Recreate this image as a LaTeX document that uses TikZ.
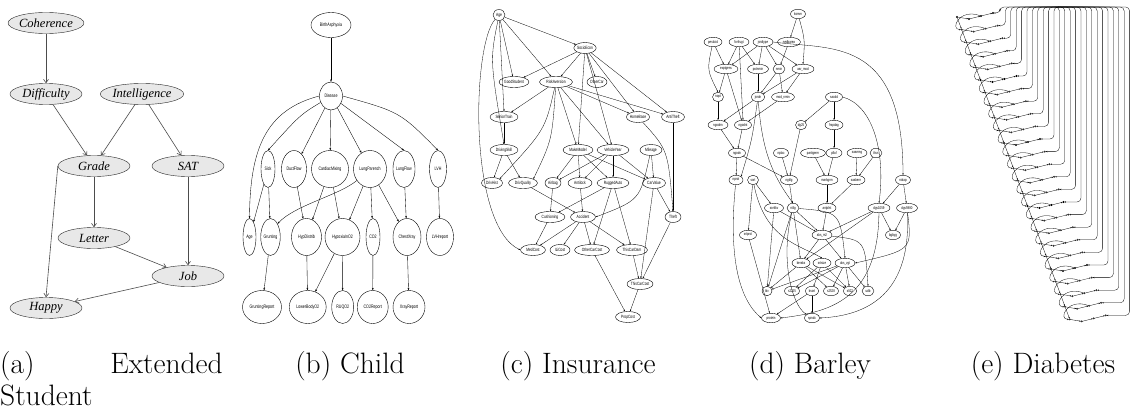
\documentclass[tikz,border=0pt]{standalone}
\usepackage{fontspec}
\usetikzlibrary{arrows.meta,shapes.geometric,calc}
\newfontfamily\studfont{Liberation Serif}
\newfontfamily\netfont[FakeStretch=0.72]{Liberation Sans}

\begin{document}
\begin{tikzpicture}[x=1pt,y=-1pt,
 st/.style={ellipse,draw=black!85,fill=gray!18,minimum width=72pt,minimum height=21pt,inner sep=0pt,font=\studfont\itshape\fontsize{12.5}{14}\selectfont},
 sa/.style={-{Straight Barb[length=3.5pt,width=5pt]},draw=black!70,line width=0.6pt},
 cn/.style={ellipse,draw,inner sep=0pt,minimum height=37pt,font=\netfont\fontsize{5}{6}\selectfont},
 ca/.style={-{Stealth[length=2.5pt,width=1.8pt]},line width=0.35pt},
 ins/.style={ellipse,draw,inner sep=0pt,minimum height=11pt,font=\netfont\fontsize{4.6}{5}\selectfont},
 ia/.style={-{Stealth[length=2pt,width=1.5pt]},line width=0.3pt},
 bn/.style={ellipse,draw,inner sep=0pt,minimum height=9.5pt,font=\netfont\fontsize{4}{5}\selectfont},
 ba/.style={-{Stealth[length=1.8pt,width=1.4pt]},line width=0.3pt},
 dn/.style={circle,draw,inner sep=0pt,minimum size=1.5pt},
 da/.style={-{Stealth[length=1.6pt,width=1.3pt]},line width=0.3pt},
 captxt/.style={font=\fontsize{29.5}{32}\selectfont,inner sep=0pt}]
 \useasboundingbox (0,0) rectangle (1143,412);
 % (a) extended student
 \node[st] (coh) at (46,23) {Coherence};
 \node[st] (diff) at (46,94) {Difficulty};
 \node[st] (intel) at (142,94) {Intelligence};
 \node[st] (grade) at (94,166) {Grade};
 \node[st] (sat) at (188,166) {SAT};
 \node[st] (letter) at (94,238) {Letter};
 \node[st] (job) at (188,276) {Job};
 \node[st] (happy) at (46,308) {Happy};
 \draw[sa] (coh)--(diff); \draw[sa] (diff)--(grade); \draw[sa] (intel)--(grade);
 \draw[sa] (intel)--(sat); \draw[sa] (grade)--(letter); \draw[sa] (grade.west)--(happy.north);
 \draw[sa] (sat)--(job); \draw[sa] (letter)--(job); \draw[sa] (job)--(happy);
 % (b) child
 \node[cn,minimum width=40pt,minimum height=25pt] (birth) at (331,25) {BirthAsphyxia};
 \node[cn,minimum width=23pt,minimum height=28pt] (dis) at (331,96) {Disease};
 \node[cn,minimum width=14pt] (sick) at (268,169) {Sick};
 \node[cn,minimum width=25pt] (duct) at (294,169) {DuctFlow};
 \node[cn,minimum width=37pt] (card) at (330,169) {CardiacMixing};
 \node[cn,minimum width=33pt] (lpar) at (370,169) {LungParench};
 \node[cn,minimum width=22pt] (lflow) at (404,169) {LungFlow};
 \node[cn,minimum width=17pt] (lvh) at (438,169) {LVH};
 \node[cn,minimum width=13pt] (age) at (249.5,237) {Age};
 \node[cn,minimum width=19pt] (grunt) at (270.5,237) {Grunting};
 \node[cn,minimum width=30pt] (hypd) at (306.5,237) {HypDistrib};
 \node[cn,minimum width=35pt] (hypo) at (342.5,237) {HypoxiaInO2};
 \node[cn,minimum width=14pt] (co2) at (373,237) {CO2};
 \node[cn,minimum width=28pt] (chest) at (407,237) {ChestXray};
 \node[cn,minimum width=27pt] (lvhr) at (440,237) {LVHreport};
 \node[cn,minimum width=39pt,minimum height=33pt] (gruntr) at (262,307) {GruntingReport};
 \node[cn,minimum width=37pt,minimum height=33pt] (lowb) at (307.7,307) {LowerBodyO2};
 \node[cn,minimum width=22pt,minimum height=33pt] (ruq) at (342.7,307) {RUQO2};
 \node[cn,minimum width=31pt,minimum height=33pt] (co2r) at (372.7,307) {CO2Report};
 \node[cn,minimum width=32pt,minimum height=33pt] (xray) at (409,307) {XrayReport};
 \draw[ca] (birth)--(dis);
 \draw[ca] (dis.west) .. controls (265,110) and (250,150) .. (age.north);
 \draw[ca] (dis) .. controls (300,115) .. (sick.north);
 \draw[ca] (dis)--(duct); \draw[ca] (dis)--(card); \draw[ca] (dis)--(lpar);
 \draw[ca] (dis)--(lflow.north);
 \draw[ca] (dis.east) .. controls (400,112) .. (lvh.north);
 \draw[ca] (sick)--(age); \draw[ca] (sick)--(grunt);
 \draw[ca] (duct)--(hypd); \draw[ca] (card)--(hypd); \draw[ca] (card)--(hypo);
 \draw[ca] (lpar) .. controls (340,195) and (295,205) .. (grunt.north east);
 \draw[ca] (lpar)--(hypo); \draw[ca] (lpar)--(co2); \draw[ca] (lpar)--(chest);
 \draw[ca] (lflow)--(chest); \draw[ca] (lvh)--(lvhr);
 \draw[ca] (grunt)--(gruntr); \draw[ca] (hypd)--(lowb); \draw[ca] (hypo)--(lowb);
 \draw[ca] (hypo)--(ruq); \draw[ca] (co2)--(co2r); \draw[ca] (chest)--(xray);
 % (c) insurance
 \node[ins,minimum width=12pt] (iage) at (499,15) {Age};
 \node[ins,minimum width=20pt] (socio) at (585,48) {SocioEcon};
 \node[ins,minimum width=30pt] (good) at (514,82) {GoodStudent};
 \node[ins,minimum width=33pt] (risk) at (556,82) {RiskAversion};
 \node[ins,minimum width=20pt] (other) at (597,82) {OtherCar};
 \node[ins,minimum width=28pt] (senior) at (504,117) {SeniorTrain};
 \node[ins,minimum width=23pt] (home) at (638,117) {HomeBase};
 \node[ins,minimum width=23pt] (anti) at (673,117) {AntiTheft};
 \node[ins,minimum width=28pt] (dskill) at (504,150) {DrivingSkill};
 \node[ins,minimum width=30pt] (make) at (578,150) {MakeModel};
 \node[ins,minimum width=32pt] (vyear) at (613,150) {VehicleYear};
 \node[ins,minimum width=22pt] (mile) at (651,150) {Mileage};
 \node[ins,minimum width=21pt] (dhist) at (492,183) {DrivHist};
 \node[ins,minimum width=29pt] (dqual) at (523,183) {DrivQuality};
 \node[ins,minimum width=16pt] (airbag) at (553,183) {Airbag};
 \node[ins,minimum width=24pt] (antil) at (580,183) {Antilock};
 \node[ins,minimum width=32pt] (rugged) at (613,183) {RuggedAuto};
 \node[ins,minimum width=23pt] (carval) at (654,183) {CarValue};
 \node[ins,minimum width=30pt] (cush) at (550,217) {Cushioning};
 \node[ins,minimum width=25pt] (acc) at (583,217) {Accident};
 \node[ins,minimum width=16pt] (theft) at (673,217) {Theft};
 \node[ins,minimum width=25pt] (med) at (533,250) {MedCost};
 \node[ins,minimum width=20pt] (ili) at (560,250) {ILiCost};
 \node[ins,minimum width=35pt] (occost) at (592,250) {OtherCarCost};
 \node[ins,minimum width=31pt] (tcdam) at (632,250) {ThisCarDam};
 \node[ins,minimum width=23pt] (tccost) at (640,284) {ThisCarCost};
 \node[ins,minimum width=25pt] (prop) at (628,317) {PropCost};
 \draw[ia] (iage)--(socio); \draw[ia] (iage)--(good); \draw[ia] (iage)--(risk);
 \draw[ia] (iage)--(senior.north); \draw[ia] (iage) .. controls (490,60) .. (dskill.north);
 \draw[ia] (iage) .. controls (472,45) and (468,225) .. (med.west);
 \draw[ia] (socio)--(good); \draw[ia] (socio)--(risk); \draw[ia] (socio)--(other);
 \draw[ia] (socio)--(make); \draw[ia] (socio)--(vyear); \draw[ia] (socio)--(home); \draw[ia] (socio)--(anti);
 \draw[ia] (risk)--(senior); \draw[ia] (risk)--(home); \draw[ia] (risk)--(anti);
 \draw[ia] (risk) .. controls (545,130) .. (dhist.north east);
 \draw[ia] (risk) .. controls (552,140) .. (dqual.north east);
 \draw[ia] (risk)--(make); \draw[ia] (risk)--(vyear);
 \draw[ia] (senior)--(dskill); \draw[ia] (dskill)--(dhist); \draw[ia] (dskill)--(dqual);
 \draw[ia] (make)--(airbag); \draw[ia] (make)--(antil); \draw[ia] (make)--(rugged); \draw[ia] (make)--(carval);
 \draw[ia] (vyear)--(airbag); \draw[ia] (vyear)--(antil); \draw[ia] (vyear)--(rugged); \draw[ia] (vyear)--(carval);
 \draw[ia] (mile)--(carval); \draw[ia] (mile) .. controls (640,200) .. (acc.east);
 \draw[ia] (dqual)--(acc); \draw[ia] (antil)--(acc); \draw[ia] (airbag)--(cush); \draw[ia] (rugged)--(cush);
 \draw[ia] (rugged)--(occost); \draw[ia] (rugged)--(tcdam);
 \draw[ia] (acc)--(med); \draw[ia] (acc)--(ili); \draw[ia] (acc)--(occost); \draw[ia] (acc)--(tcdam);
 \draw[ia] (cush)--(med);
 \draw[ia] (home) .. controls (668,150) .. (theft.north); \draw[ia] (anti)--(theft);
 \draw[ia] (carval)--(theft); \draw[ia] (carval)--(tccost); \draw[ia] (theft)--(tccost);
 \draw[ia] (tcdam)--(tccost); \draw[ia] (occost)--(prop); \draw[ia] (tccost)--(prop);
 % (d) barley
 \node[bn,minimum width=15pt] (komm) at (798,14) {komm};
 \node[bn,minimum width=18pt] (pest) at (713,42) {pesticid};
 \node[bn,minimum width=20pt] (forf) at (739,42) {forfrugt};
 \node[bn,minimum width=20pt] (jtype) at (763,42) {jordtype};
 \node[bn,minimum width=23pt] (nedb) at (789,42) {nedbarea};
 \node[bn,minimum width=24pt] (expt) at (726,69) {exptgens};
 \node[bn,minimum width=21pt] (potn) at (758,69) {potnmin};
 \node[bn,minimum width=12pt] (nmin) at (779,69) {nmin};
 \node[bn,minimum width=22pt] (aar) at (803,69) {aar\_mod};
 \node[bn,minimum width=11pt] (nopt) at (718,97) {nopt};
 \node[bn,minimum width=13pt] (jordn) at (758,97) {jordn};
 \node[bn,minimum width=23pt] (modn) at (783,97) {mod\_nmin};
 \node[bn,minimum width=17pt] (saat) at (834,97) {saatid};
 \node[bn,minimum width=20pt] (ngnn) at (718,125) {ngodnn};
 \node[bn,minimum width=17pt] (ngnt) at (743,125) {ngodnt};
 \node[bn,minimum width=11pt] (dg25) at (801,125) {dg25};
 \node[bn,minimum width=18pt] (frsp) at (834,125) {frspdag};
 \node[bn,minimum width=17pt] (ngodn) at (737,153) {ngodn};
 \node[bn,minimum width=15pt] (nplac) at (781,153) {nplac};
 \node[bn,minimum width=25pt] (parti) at (813,153) {partigerm};
 \node[bn,minimum width=16pt] (pllaf) at (834,153) {pllaf};
 \node[bn,minimum width=20pt] (saamng) at (857,153) {saamng};
 \node[bn,minimum width=12pt] (tkvs) at (876,153) {tkvs};
 \node[bn,minimum width=14pt] (nprot) at (736,180) {nprot};
 \node[bn,minimum width=11pt] (sort) at (753,180) {sort};
 \node[bn,minimum width=17pt] (ngtilg) at (789,180) {ngtilg};
 \node[bn,minimum width=22pt] (markgrm) at (827,180) {markgrm};
 \node[bn,minimum width=18pt] (saakern) at (856,180) {saakern};
 \node[bn,minimum width=15pt] (rokap) at (903,180) {rokap};
 \node[bn,minimum width=19pt] (sorttkv) at (774,208) {sorttkv};
 \node[bn,minimum width=12pt] (ntilg) at (793,208) {ntilg};
 \node[bn,minimum width=18pt] (antplnt) at (827,208) {antplnt};
 \node[bn,minimum width=22pt] (dgv1) at (879,208) {dgv1059};
 \node[bn,minimum width=21pt] (dgv5) at (907,208) {dgv5980};
 \node[bn,minimum width=17pt] (srtprot) at (748,235) {srtprot};
 \node[bn,minimum width=20pt] (aksm2) at (822,235) {aks\_m2};
 \node[bn,minimum width=15pt] (bgbyg) at (893,235) {bgbyg};
 \node[bn,minimum width=18pt] (keraks) at (801,263) {keraks};
 \node[bn,minimum width=18pt] (srtsize) at (822,263) {srtsize};
 \node[bn,minimum width=20pt] (aksvgt) at (845,263) {aks\_vgt};
 \node[bn,minimum width=10pt] (tkv) at (767,291) {tkv};
 \node[bn,minimum width=15pt] (s2225) at (792,291) {s2225};
 \node[bn,minimum width=13pt] (ksort) at (812,291) {ksort};
 \node[bn,minimum width=15pt] (s2528) at (831,291) {s2528};
 \node[bn,minimum width=13pt] (slt22) at (850,291) {slt22};
 \node[bn,minimum width=12pt] (udb) at (868,291) {udb};
 \node[bn,minimum width=19pt] (protein) at (771,318) {protein};
 \node[bn,minimum width=15pt] (spndx) at (812,318) {spndx};
 \draw[ba] (komm)--(nedb); \draw[ba] (komm) .. controls (805,40) .. (aar.north);
 \draw[ba] (pest)--(expt); \draw[ba] (pest) .. controls (707,70) .. (nopt.north);
 \draw[ba] (forf)--(expt); \draw[ba] (forf)--(potn); \draw[ba] (forf)--(ngnt.north);
 \draw[ba] (jtype)--(expt); \draw[ba] (jtype)--(potn); \draw[ba] (jtype)--(nmin); \draw[ba] (jtype)--(aar);
 \draw[ba] (jtype.east) .. controls (830,50) and (903,35) .. (rokap.north);
 \draw[ba] (nedb)--(nmin);
 \draw[ba] (expt)--(nopt); \draw[ba] (expt)--(ngnt);
 \draw[ba] (potn)--(jordn); \draw[ba] (nmin)--(jordn); \draw[ba] (nmin)--(modn);
 \draw[ba] (aar)--(jordn); \draw[ba] (aar)--(modn);
 \draw[ba] (nopt)--(ngnn); \draw[ba] (jordn)--(ngnn); \draw[ba] (modn)--(ngnt);
 \draw[ba] (ngnn)--(ngodn); \draw[ba] (ngnt)--(ngodn);
 \draw[ba] (jordn) .. controls (752,140) .. (nprot.north east);
 \draw[ba] (jordn) .. controls (762,150) and (772,175) .. (ntilg.north);
 \draw[ba] (ngodn)--(nprot); \draw[ba] (ngodn)--(ngtilg);
 \draw[ba] (saat)--(dg25); \draw[ba] (saat)--(frsp);
 \draw[ba] (saat.east) .. controls (872,105) and (886,150) .. (dgv1.north);
 \draw[ba] (dg25)--(ngtilg); \draw[ba] (nplac)--(ngtilg); \draw[ba] (frsp)--(pllaf);
 \draw[ba] (parti)--(markgrm); \draw[ba] (pllaf)--(markgrm);
 \draw[ba] (saamng)--(saakern); \draw[ba] (tkvs)--(saakern);
 \draw[ba] (markgrm)--(antplnt); \draw[ba] (saakern)--(antplnt);
 \draw[ba] (rokap)--(dgv1); \draw[ba] (rokap)--(dgv5); \draw[ba] (ngtilg)--(ntilg);
 \draw[ba] (sort)--(sorttkv); \draw[ba] (sort)--(srtprot);
 \draw[ba] (sort) .. controls (765,240) and (800,245) .. (srtsize.north);
 \draw[ba] (nprot) .. controls (728,260) and (740,300) .. (protein.west);
 \draw[ba] (sorttkv)--(aksm2); \draw[ba] (sorttkv)--(tkv);
 \draw[ba] (ntilg)--(aksm2); \draw[ba] (ntilg)--(tkv); \draw[ba] (ntilg)--(keraks);
 \draw[ba] (ntilg) .. controls (840,212) .. (aksvgt.north);
 \draw[ba] (ntilg) .. controls (780,260) and (792,305) .. (spndx.north west);
 \draw[ba] (antplnt)--(aksm2);
 \draw[ba] (dgv1)--(aksm2); \draw[ba] (dgv1)--(keraks); \draw[ba] (dgv1)--(bgbyg);
 \draw[ba] (dgv1) .. controls (878,300) and (830,312) .. (protein.east);
 \draw[ba] (dgv5)--(bgbyg); \draw[ba] (dgv5) .. controls (912,250) .. (aksvgt.east);
 \draw[ba] (dgv5) .. controls (912,300) and (860,316) .. (spndx.east);
 \draw[ba] (srtprot)--(protein);
 \draw[ba] (aksm2)--(keraks); \draw[ba] (aksm2)--(aksvgt); \draw[ba] (aksm2) .. controls (865,240) .. (udb.north);
 \draw[ba] (keraks)--(tkv); \draw[ba] (keraks)--(s2528); \draw[ba] (keraks)--(slt22);
 \draw[ba] (srtsize)--(s2225); \draw[ba] (srtsize)--(ksort); \draw[ba] (srtsize)--(slt22);
 \draw[ba] (aksvgt)--(tkv); \draw[ba] (aksvgt)--(s2225); \draw[ba] (aksvgt)--(s2528);
 \draw[ba] (aksvgt)--(slt22); \draw[ba] (aksvgt)--(udb);
 \draw[ba] (ksort)--(protein); \draw[ba] (ksort)--(spndx);
 % (e) diabetes
 \coordinate (hub) at (1058,7);
 \foreach \i [evaluate=\i as \yy using 16+12.6*\i, evaluate=\i as \lx using 953+4.7*\i,
   evaluate=\i as \vx using 1000+5.4*\i] in {0,...,24} {
   \node[dn] (da\i) at (\lx+4,\yy+1) {};
   \node[dn] (db\i) at (\lx+16,\yy+3) {};
   \node[dn] (dc\i) at (\lx+28,\yy) {};
   \node[dn] (dd\i) at (\lx+40,\yy-3) {};
   \draw[da] (da\i)--(db\i); \draw[da] (db\i)--(dc\i); \draw[da] (dc\i)--(dd\i);
   \draw[da,rounded corners=4pt] (hub) -- (\vx,7) -- (\vx,\yy-3) -- (dd\i);
 }
 \foreach \i [evaluate=\i as \j using int(\i+1)] in {0,...,23} {
   \draw[da] (dc\i) .. controls ($(dc\i)+(-22,-8)$) and ($(da\j)+(-12,0)$) .. (da\j);
   \draw[da] (da\i)--(da\j);
 }
 % captions
 \node[captxt,anchor=base west] (capa) at (0,373) {(a)};
 \node[captxt,anchor=base east] (capax) at (223,373) {Extended};
 \node[captxt,anchor=base west] (capay) at (0,405) {Student};
 \node[captxt,anchor=base] (capb) at (350,373) {(b) Child};
 \node[captxt,anchor=base] (capc) at (578,373) {(c) Insurance};
 \node[captxt,anchor=base] (capd) at (810,373) {(d) Barley};
 \node[captxt,anchor=base] (cape) at (1043,373) {(e) Diabetes};
\end{tikzpicture}
\end{document}
